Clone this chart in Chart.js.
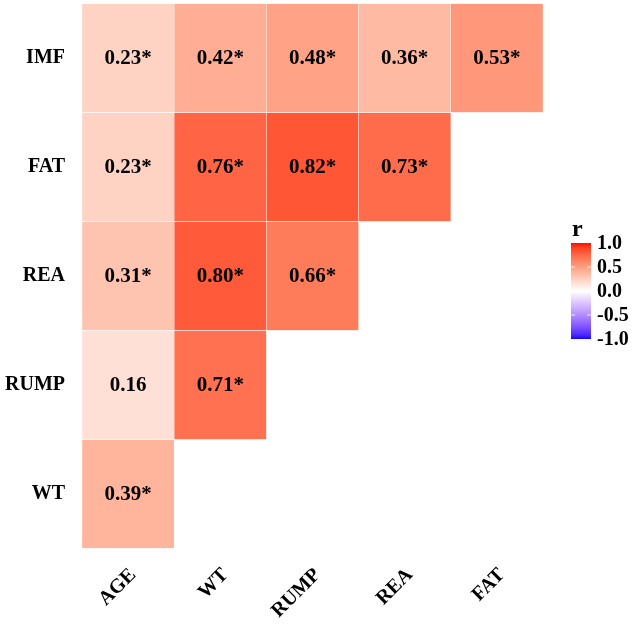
<!DOCTYPE html>
<html>
<head>
<meta charset="utf-8">
<title>Correlation heatmap</title>
<script src="https://cdn.jsdelivr.net/npm/chart.js@4.4.1/dist/chart.umd.min.js"></script>
<style>
  html, body { margin: 0; padding: 0; background: #fff; }
  #wrap { width: 633px; height: 626px; position: relative; }
</style>
</head>
<body>
<div id="wrap"><canvas id="heatChart"></canvas></div>
<script>
// traits on each axis
const xCats = ['AGE', 'WT', 'RUMP', 'REA', 'FAT'];
const yCats = ['IMF', 'FAT', 'REA', 'RUMP', 'WT']; // top to bottom

// correlation r per row (null = empty cell)
const rIMF  = [0.23, 0.42, 0.48, 0.36, 0.53];
const rFAT  = [0.23, 0.76, 0.82, 0.73, null];
const rREA  = [0.31, 0.80, 0.66, null, null];
const rRUMP = [0.16, 0.71, null, null, null];
const rWT   = [0.39, null, null, null, null];

// significance flags (asterisk)
const sigIMF  = [true, true, true, true, true];
const sigFAT  = [true, true, true, true, false];
const sigREA  = [true, true, true, false, false];
const sigRUMP = [false, true, false, false, false];
const sigWT   = [true, false, false, false, false];

const legendTicks = [1.0, 0.5, 0.0, -0.5, -1.0];

const rowValues = [rIMF, rFAT, rREA, rRUMP, rWT];
const rowSig = [sigIMF, sigFAT, sigREA, sigRUMP, sigWT];

// ---- colour scale: blue - white - red, interpolated in Lab like ggplot's gradient2
function toLab(r, g, b) {
  const lin = c => { c /= 255; return c <= 0.04045 ? c / 12.92 : Math.pow((c + 0.055) / 1.055, 2.4); };
  const R = lin(r), G = lin(g), B = lin(b);
  let X = (R * 0.4124 + G * 0.3576 + B * 0.1805) / 0.95047;
  let Y = (R * 0.2126 + G * 0.7152 + B * 0.0722);
  let Z = (R * 0.0193 + G * 0.1192 + B * 0.9505) / 1.08883;
  const f = t => t > 0.008856 ? Math.cbrt(t) : 7.787 * t + 16 / 116;
  X = f(X); Y = f(Y); Z = f(Z);
  return [116 * Y - 16, 500 * (X - Y), 200 * (Y - Z)];
}
function fromLab(L, a, bb) {
  let fy = (L + 16) / 116, fx = fy + a / 500, fz = fy - bb / 200;
  const inv = t => t > 0.206893 ? t * t * t : (t - 16 / 116) / 7.787;
  const X = inv(fx) * 0.95047, Y = inv(fy), Z = inv(fz) * 1.08883;
  let R = X * 3.2406 + Y * -1.5372 + Z * -0.4986;
  let G = X * -0.9689 + Y * 1.8758 + Z * 0.0415;
  let B = X * 0.0557 + Y * -0.2040 + Z * 1.0570;
  const gam = c => {
    c = Math.min(1, Math.max(0, c));
    return Math.round(255 * (c <= 0.0031308 ? 12.92 * c : 1.055 * Math.pow(c, 1 / 2.4) - 0.055));
  };
  return 'rgb(' + gam(R) + ',' + gam(G) + ',' + gam(B) + ')';
}
const labRed = toLab(255, 0, 0), labWhite = toLab(255, 255, 255), labBlue = toLab(0, 0, 255);
function rColor(v) {
  const end = v >= 0 ? labRed : labBlue;
  const t = Math.min(1, Math.abs(v));
  return fromLab(
    labWhite[0] + (end[0] - labWhite[0]) * t,
    labWhite[1] + (end[1] - labWhite[1]) * t,
    labWhite[2] + (end[2] - labWhite[2]) * t
  );
}

// one floating-bar dataset per row
const nRows = yCats.length;
const datasets = yCats.map((name, i) => {
  const yPos = nRows - 1 - i;
  const vals = rowValues[i];
  return {
    label: name,
    data: vals.map(v => v === null ? null : [yPos - 0.5, yPos + 0.5]),
    rVals: vals,
    rSig: rowSig[i],
    backgroundColor: vals.map(v => v === null ? 'rgba(0,0,0,0)' : rColor(v)),
    borderColor: 'rgba(255,255,255,0.55)',
    borderWidth: 0.5,
    borderSkipped: false,
    grouped: false,
    categoryPercentage: 1,
    barPercentage: 1
  };
});

const FONT = "'Liberation Serif', 'Times New Roman', serif";

// cell labels
const cellText = {
  id: 'cellText',
  afterDatasetsDraw(chart) {
    const ctx = chart.ctx;
    ctx.save();
    ctx.font = 'bold 21px ' + FONT;
    ctx.fillStyle = '#000';
    ctx.textAlign = 'center';
    ctx.textBaseline = 'middle';
    chart.data.datasets.forEach((ds, di) => {
      const meta = chart.getDatasetMeta(di);
      ds.rVals.forEach((v, j) => {
        if (v === null) return;
        const el = meta.data[j];
        const cy = (el.y + el.base) / 2;
        ctx.fillText(v.toFixed(2) + (ds.rSig[j] ? '*' : ''), el.x, cy + 1);
      });
    });
    ctx.restore();
  }
};

// colourbar legend
const colorBar = {
  id: 'colorBar',
  afterDraw(chart) {
    const ctx = chart.ctx;
    const x0 = 571, w = 20, yTop = 243, yBot = 339;
    ctx.save();
    ctx.font = 'bold 24px ' + FONT;
    ctx.fillStyle = '#000';
    ctx.textAlign = 'left';
    ctx.textBaseline = 'alphabetic';
    ctx.fillText('r', x0 + 1, 236);
    for (let y = yTop; y < yBot; y++) {
      const v = 1 - 2 * (y - yTop + 0.5) / (yBot - yTop);
      ctx.fillStyle = rColor(v);
      ctx.fillRect(x0, y, w, 1);
    }
    ctx.font = 'bold 20px ' + FONT;
    ctx.textBaseline = 'middle';
    legendTicks.forEach(t => {
      const y = yTop + (1 - t) / 2 * (yBot - yTop);
      ctx.strokeStyle = 'rgba(255,255,255,0.8)';
      ctx.lineWidth = 1;
      if (t < 1 && t > -1) {
        ctx.beginPath();
        ctx.moveTo(x0, y); ctx.lineTo(x0 + 4, y);
        ctx.moveTo(x0 + w - 4, y); ctx.lineTo(x0 + w, y);
        ctx.stroke();
      }
      ctx.fillStyle = '#000';
      ctx.fillText(t.toFixed(1), 597, y + 1);
    });
    ctx.restore();
  }
};

const ctx = document.getElementById('heatChart').getContext('2d');
const heatChart = new Chart(ctx, {
  type: 'bar',
  data: { labels: xCats, datasets: datasets },
  options: {
    responsive: true,
    maintainAspectRatio: false,
    animation: false,
    layout: { padding: { top: 3.5, right: 90, left: 0, bottom: 0 } },
    plugins: { legend: { display: false }, tooltip: { enabled: false } },
    scales: {
      x: {
        grid: { display: false, drawTicks: false },
        border: { display: false },
        ticks: {
          color: '#000',
          font: { family: FONT, size: 20, weight: 'bold' },
          minRotation: 45,
          maxRotation: 45,
          padding: 15,
          labelOffset: 5
        },
        afterFit(scale) {
          scale.height = 77.5;
          scale.paddingLeft = 0; scale.paddingRight = 0;
          scale.paddingTop = 0; scale.paddingBottom = 0;
        }
      },
      y: {
        min: -0.5,
        max: nRows - 0.5,
        grid: { display: false, drawTicks: false },
        border: { display: false },
        afterBuildTicks(axis) {
          axis.ticks = yCats.map((c, i) => ({ value: nRows - 1 - i }));
        },
        ticks: {
          color: '#000',
          font: { family: FONT, size: 20, weight: 'bold' },
          padding: 17,
          callback: v => yCats[nRows - 1 - v]
        },
        afterFit(scale) {
          scale.width = 82;
          scale.paddingTop = 0; scale.paddingBottom = 0;
          scale.paddingLeft = 0; scale.paddingRight = 0;
        }
      }
    }
  },
  plugins: [cellText, colorBar]
});
</script>
</body>
</html>
